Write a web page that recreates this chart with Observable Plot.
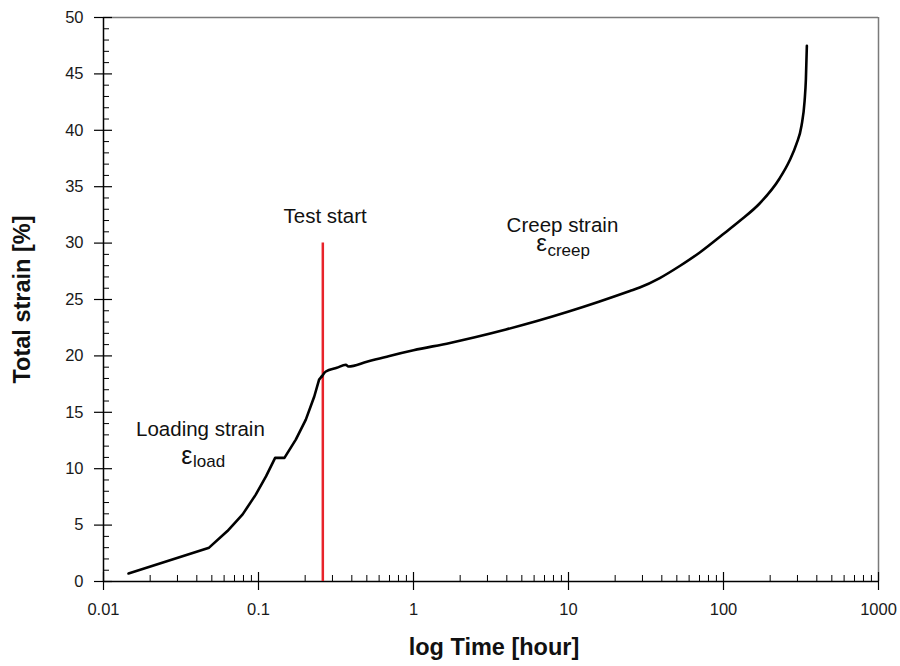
<!DOCTYPE html>
<html>
<head>
<meta charset="utf-8">
<script src="https://cdn.jsdelivr.net/npm/d3@7"></script>
<script src="https://cdn.jsdelivr.net/npm/@observablehq/plot@0.6"></script>
<style>
  html, body { margin: 0; padding: 0; background: #fff; }
  #chart svg { display: block; }
</style>
</head>
<body>
<div id="chart"></div>
<script>
// Loading phase: time (hours) vs total strain (%)
const loadTime = [0.0145, 0.048, 0.063, 0.079, 0.096, 0.112, 0.128, 0.147, 0.174, 0.202, 0.229, 0.246, 0.256];
const loadStrain = [0.71, 3.0, 4.47, 5.95, 7.7, 9.34, 10.96, 10.96, 12.58, 14.35, 16.4, 17.9, 18.18];
// Creep phase: time (hours) vs total strain (%)
const creepTime = [0.256, 0.272, 0.32, 0.366, 0.38, 0.5, 0.7, 1.0, 1.72, 2.49, 3.95, 6.26, 9.91, 15.7, 24.9, 28.8, 38.8, 52.2, 70.3, 98.8, 127, 171, 230, 267, 296, 318.6, 333.6, 340, 345];
const creepStrain = [18.18, 18.62, 18.95, 19.21, 19.06, 19.48, 20.0, 20.5, 21.15, 21.65, 22.34, 23.09, 23.91, 24.8, 25.75, 26.06, 26.9, 27.97, 29.17, 30.76, 31.96, 33.51, 35.73, 37.32, 38.81, 40.4, 42.6, 44.5, 47.5];

const testStartTime = [0.26];
const testStartTop = 30;

const xTickValues = [0.01, 0.1, 1, 10, 100, 1000];
const xTickLabels = ["0.01", "0.1", "1", "10", "100", "1000"];
const yTickValues = [0, 5, 10, 15, 20, 25, 30, 35, 40, 45, 50];

const xMinorTicks = [];
for (const d of [0.01, 0.1, 1, 10, 100]) for (let k = 2; k <= 9; k++) xMinorTicks.push(+(d * k).toPrecision(3));
const yMinorTicks = d3.range(1, 50).filter(v => v % 5 !== 0);

const loadData = loadTime.map((t, i) => ({t, s: loadStrain[i]}));
const creepData = creepTime.map((t, i) => ({t, s: creepStrain[i]}));

const font = "Liberation Sans, Arial, Helvetica, sans-serif";
const labelFmt = d => xTickLabels[xTickValues.indexOf(d)];

// tick lengths expressed through the scales (px → data units)
const pxPerStrain = (666 - 17 - 85) / 50;
const pxPerDecade = (900 - 103 - 22) / 5;
const xAt = px => 0.01 * Math.pow(10, px / pxPerDecade);

const chart = Plot.plot({
  width: 900,
  height: 666,
  marginLeft: 103,
  marginRight: 22,
  marginTop: 17,
  marginBottom: 85,
  style: {fontFamily: font, background: "#fff", color: "#000"},
  x: {type: "log", domain: [0.01, 1000]},
  y: {domain: [0, 50]},
  marks: [
    // frame (top/right gray)
    Plot.ruleY([50], {stroke: "#7a7a7a", strokeWidth: 1.5}),
    Plot.ruleX([1000], {stroke: "#7a7a7a", strokeWidth: 1.5}),
    // x axis labels
    Plot.axisX(xTickValues, {tickSize: 0, tickPadding: 22, fontSize: 16.5, fill: "#1a1a1a", tickFormat: labelFmt, label: null}),
    // x major ticks crossing the axis, minor ticks inside
    Plot.ruleX(xTickValues, {y1: -9 / pxPerStrain, y2: 9 / pxPerStrain, stroke: "#000", strokeWidth: 1.2}),
    Plot.ruleX(xMinorTicks, {y1: 0, y2: 6 / pxPerStrain, stroke: "#000", strokeWidth: 1}),
    // y axis labels
    Plot.axisY(yTickValues, {tickSize: 0, tickPadding: 20, fontSize: 16.5, fill: "#1a1a1a", label: null}),
    Plot.ruleY(yTickValues, {x1: xAt(-9), x2: xAt(9), stroke: "#000", strokeWidth: 1.2}),
    Plot.ruleY(yMinorTicks, {x1: 0.01, x2: xAt(6), stroke: "#000", strokeWidth: 1}),
    Plot.ruleY([0], {stroke: "#000", strokeWidth: 1.5}),
    Plot.ruleX([0.01], {stroke: "#000", strokeWidth: 1.5}),
    // axis titles
    Plot.text(["log Time [hour]"], {frameAnchor: "bottom", dy: 73, dx: 3, lineAnchor: "bottom", textAnchor: "middle", fontSize: 23.5, fontWeight: "bold", fill: "#111"}),
    Plot.text(["Total strain [%]"], {frameAnchor: "left", dx: -81, rotate: -90, textAnchor: "middle", lineAnchor: "middle", fontSize: 23.5, fontWeight: "bold", fill: "#111"}),
    // test start marker
    Plot.ruleX(testStartTime, {y1: 0, y2: testStartTop, stroke: "#e8232a", strokeWidth: 2.5}),
    // curve
    Plot.line(loadData, {x: "t", y: "s", stroke: "#000", strokeWidth: 2.6, strokeLinejoin: "round"}),
    Plot.line(creepData, {x: "t", y: "s", curve: "monotone-x", stroke: "#000", strokeWidth: 2.6, strokeLinejoin: "round"}),
    // annotations
    Plot.text(["Test start"], {x: [0.269], y: [31.74], lineAnchor: "bottom", fontSize: 20.5, fill: "#111"}),
    Plot.text(["Loading strain"], {x: [0.0422], y: [12.94], lineAnchor: "bottom", fontSize: 20.5, fill: "#111"}),
    Plot.text(["ε"], {x: [0.0375], y: [10.44], lineAnchor: "bottom", textAnchor: "end", fontSize: 25, fill: "#111"}),
    Plot.text(["load"], {x: [0.0375], y: [10.14], dx: 0.5, lineAnchor: "bottom", textAnchor: "start", fontSize: 17, fill: "#111"}),
    Plot.text(["Creep strain"], {x: [9.14], y: [30.94], lineAnchor: "bottom", fontSize: 20.5, fill: "#111"}),
    Plot.text(["ε"], {x: [7.26], y: [29.3], lineAnchor: "bottom", textAnchor: "end", fontSize: 24, fill: "#111"}),
    Plot.text(["creep"], {x: [7.26], y: [28.9], dx: 0.5, lineAnchor: "bottom", textAnchor: "start", fontSize: 17, fill: "#111"})
  ]
});
document.getElementById("chart").appendChild(chart);
</script>
</body>
</html>
